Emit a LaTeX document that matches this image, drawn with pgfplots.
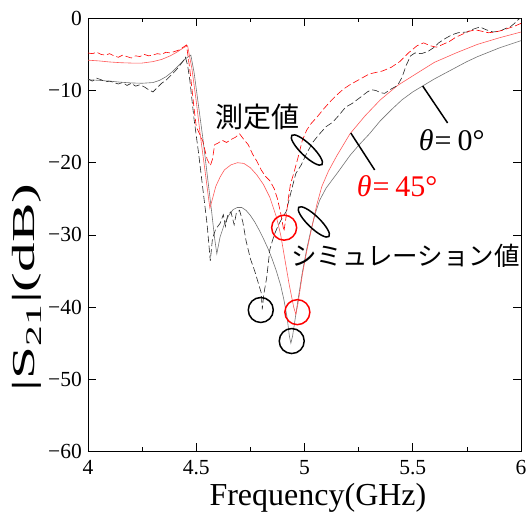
\documentclass[border=0pt]{standalone}
\usepackage{fontspec}
\setmainfont{Liberation Serif}
\newfontfamily\cjk{Noto Sans CJK JP}
\usepackage{pgfplots}
\pgfplotsset{compat=1.18}
\usetikzlibrary{shapes.geometric}
\begin{document}
\begin{tikzpicture}
\useasboundingbox (-88pt,-66.5pt) rectangle (438pt,451.5pt);
\begin{axis}[
  scale only axis, width=433pt, height=433.2pt,
  xmin=4, xmax=6, ymin=-60, ymax=0,
  xtick={4,4.5,5,5.5,6}, xticklabels={4,4.5,5,5.5,6},
  minor xtick={4.25,4.75,5.25,5.75},
  ytick={-60,-50,-40,-30,-20,-10,0},
  yticklabels={−60,−50,−40,−30,−20,−10,0},
  xtick pos=both, ytick pos=both,
  xticklabel pos=lower, yticklabel pos=left,
  tick align=inside,
  major tick length=8pt, minor tick length=4pt,
  every tick/.style={black, line width=0.6pt},
  axis line style={line width=0.7pt},
  tick label style={font=\fontsize{21.5}{24}\selectfont, inner sep=0pt},
  xticklabel style={anchor=north, yshift=-8.5pt},
  yticklabel style={anchor=east, xshift=-6pt},
  xlabel={Frequency(GHz)},
  ylabel={|S\textsubscript{21}|(dB)},
  label style={font=\fontsize{32}{36}\selectfont},
  xlabel style={at={([yshift=-53.5pt]rel axis cs:0.531,0)}, anchor=base},
  ylabel style={at={([xshift=-53pt]rel axis cs:0,0.379)}, anchor=base, xscale=1.85},
]
% simulation theta=0
\addplot[black!55, line width=0.6pt] coordinates {
(4.00,-8.5)(4.05,-8.6)(4.10,-8.7)(4.15,-8.85)(4.20,-8.95)(4.25,-9.0)(4.30,-8.9)(4.33,-8.6)(4.36,-8.1)(4.39,-7.4)(4.42,-6.5)(4.45,-5.6)(4.475,-5.1)(4.49,-7.5)(4.51,-12)(4.53,-16.5)(4.55,-21.5)(4.57,-26.5)(4.585,-30.5)(4.595,-32.6)(4.61,-30.3)(4.63,-28.5)(4.65,-27.3)(4.67,-26.5)(4.69,-26.2)(4.71,-26.2)(4.73,-26.6)(4.75,-27.3)(4.77,-28.2)(4.79,-29.3)(4.81,-30.5)(4.83,-31.8)(4.85,-33.3)(4.87,-35.0)(4.89,-37.0)(4.905,-39.0)(4.92,-41.5)(4.93,-44.0)(4.937,-45.0)(4.945,-44.0)(4.955,-42.0)(4.97,-39.0)(4.99,-35.2)(5.01,-32.0)(5.03,-29.3)(5.05,-27.0)(5.07,-25.2)(5.10,-23.5)(5.15,-21.5)(5.21,-19.0)(5.25,-17.6)(5.30,-16.0)(5.35,-14.2)(5.40,-12.7)(5.45,-11.3)(5.50,-10.2)(5.55,-9.3)(5.60,-8.4)(5.65,-7.6)(5.70,-6.8)(5.75,-6.0)(5.80,-5.3)(5.85,-4.7)(5.90,-4.1)(5.95,-3.6)(6.00,-3.1)
};
% simulation theta=45
\addplot[red!65, line width=0.6pt] coordinates {
(4.00,-5.8)(4.05,-5.9)(4.10,-6.05)(4.15,-6.15)(4.20,-6.2)(4.25,-6.2)(4.30,-6.0)(4.34,-5.7)(4.38,-5.2)(4.41,-4.7)(4.44,-4.1)(4.46,-3.8)(4.48,-7.0)(4.50,-11.5)(4.52,-16.5)(4.54,-21)(4.555,-24.5)(4.563,-26.3)(4.575,-25.0)(4.59,-23.3)(4.61,-22.0)(4.63,-21.0)(4.66,-20.3)(4.69,-20.0)(4.72,-20.1)(4.75,-20.7)(4.78,-21.7)(4.81,-23.0)(4.84,-24.8)(4.87,-27.5)(4.89,-30.0)(4.91,-33.5)(4.93,-37)(4.95,-40.0)(4.96,-41.0)(4.97,-39.5)(4.99,-35.5)(5.01,-32.3)(5.03,-29.5)(5.057,-25.8)(5.08,-23.3)(5.11,-21.2)(5.15,-19.0)(5.21,-16.0)(5.28,-13.5)(5.35,-11.3)(5.43,-9.3)(5.52,-7.6)(5.60,-6.1)(5.70,-4.8)(5.80,-3.6)(5.90,-2.7)(6.00,-1.9)
};
% measured theta=0
\addplot[black!85, line width=0.6pt, dash pattern=on 7pt off 3pt] coordinates {
(4.00,-8.4)(4.02,-8.7)(4.04,-8.3)(4.06,-8.5)(4.08,-8.8)(4.10,-8.7)(4.12,-8.9)(4.14,-9.1)(4.16,-8.9)(4.18,-9.3)(4.20,-9.0)(4.22,-9.4)(4.24,-9.2)(4.26,-9.5)(4.28,-9.9)(4.30,-10.2)(4.32,-9.6)(4.34,-9.0)(4.36,-8.6)(4.38,-8.0)(4.40,-7.4)(4.42,-6.7)(4.44,-5.9)(4.45,-5.4)(4.46,-6.5)(4.47,-8.5)(4.49,-14.0)(4.51,-18.5)(4.53,-23.5)(4.55,-28.5)(4.565,-33.6)(4.57,-32)(4.575,-30.5)(4.59,-29.2)(4.61,-28.4)(4.625,-27.2)(4.635,-28.8)(4.645,-27.3)(4.66,-26.8)(4.675,-28.6)(4.685,-27.0)(4.70,-26.6)(4.715,-28.2)(4.73,-30.8)(4.75,-33.3)(4.77,-35.0)(4.785,-36.5)(4.80,-38.0)(4.805,-40.3)(4.812,-38.2)(4.825,-36.0)(4.84,-32.0)(4.86,-30.0)(4.88,-28.6)(4.90,-27.5)(4.915,-26.8)(4.93,-25.0)(4.945,-23.2)(4.96,-21.5)(4.985,-20.3)(5.01,-18.7)(5.04,-17.1)(5.07,-16.0)(5.10,-15.0)(5.13,-14.4)(5.16,-13.4)(5.19,-12.3)(5.22,-11.8)(5.26,-10.9)(5.29,-10.2)(5.31,-9.9)(5.33,-10.0)(5.35,-10.3)(5.37,-10.4)(5.40,-9.8)(5.43,-9.3)(5.45,-8.2)(5.47,-6.5)(5.49,-5.2)(5.51,-4.8)(5.54,-4.9)(5.57,-4.6)(5.60,-4.0)(5.62,-3.4)(5.65,-2.8)(5.68,-2.3)(5.71,-2.0)(5.75,-1.9)(5.78,-1.5)(5.81,-1.2)(5.84,-1.6)(5.87,-1.9)(5.90,-1.8)(5.93,-1.4)(5.95,-1.2)(5.97,-0.7)(5.99,-0.1)(6.00,0)
};
% measured theta=45
\addplot[red, line width=0.6pt, dash pattern=on 7pt off 3pt] coordinates {
(4.00,-4.8)(4.02,-4.9)(4.04,-4.7)(4.06,-5.0)(4.08,-5.1)(4.10,-4.9)(4.12,-5.2)(4.14,-5.4)(4.16,-5.1)(4.18,-5.3)(4.20,-5.5)(4.22,-5.2)(4.24,-5.3)(4.26,-5.0)(4.28,-5.2)(4.30,-5.1)(4.32,-4.9)(4.34,-5.0)(4.36,-4.7)(4.38,-4.8)(4.40,-4.6)(4.42,-4.4)(4.44,-4.0)(4.455,-3.7)(4.47,-7.0)(4.49,-12.5)(4.50,-15.0)(4.53,-17.0)(4.55,-19.5)(4.565,-20.4)(4.575,-19.5)(4.585,-17.5)(4.60,-17.3)(4.62,-16.9)(4.64,-17.2)(4.66,-16.8)(4.68,-16.5)(4.70,-16.0)(4.72,-16.8)(4.74,-17.5)(4.76,-18.8)(4.78,-19.8)(4.80,-21.0)(4.82,-21.9)(4.84,-22.5)(4.86,-23.6)(4.875,-25.0)(4.89,-27.0)(4.905,-29.5)(4.915,-27.5)(4.925,-25.0)(4.935,-23.0)(4.95,-21.5)(4.97,-19.3)(4.99,-16.9)(5.01,-15.5)(5.03,-14.6)(5.06,-13.6)(5.09,-12.5)(5.12,-11.5)(5.15,-10.6)(5.18,-9.8)(5.21,-9.2)(5.24,-8.7)(5.27,-8.2)(5.30,-7.7)(5.33,-7.5)(5.36,-7.3)(5.40,-6.8)(5.44,-6.0)(5.48,-4.8)(5.52,-3.8)(5.55,-3.4)(5.58,-3.8)(5.61,-4.0)(5.64,-3.6)(5.67,-3.2)(5.70,-2.6)(5.73,-2.2)(5.76,-1.8)(5.79,-1.6)(5.82,-1.8)(5.85,-2.0)(5.88,-1.9)(5.91,-1.7)(5.94,-1.4)(5.97,-1.1)(6.00,-0.7)
};
% circled dips
\addplot[only marks, black, mark=o, mark size=12.5pt, mark options={line width=1.5pt}] coordinates {(4.798,-40.4)(4.941,-44.7)};
\addplot[only marks, red, mark=o, mark size=12.5pt, mark options={line width=1.5pt}] coordinates {(4.906,-29.0)(4.967,-40.7)};
% annotations
\node[font=\cjk\fontsize{28}{30}\selectfont] at (axis cs:4.782,-13.67) {測定値};
\node[font=\cjk\fontsize{25.5}{28}\selectfont] at (axis cs:5.467,-32.9) {シミュレーション値};
\node[draw, ellipse, line width=1.5pt, minimum width=42pt, minimum height=12pt, inner sep=0pt, rotate=-44] at (axis cs:5.011,-18.24) {};
\node[draw, ellipse, line width=1.5pt, minimum width=42pt, minimum height=12pt, inner sep=0pt, rotate=-44] at (axis cs:5.043,-28.2) {};
\draw[line width=1.5pt] (axis cs:5.546,-9.38) -- (axis cs:5.661,-14.5);
\draw[line width=1.5pt] (axis cs:5.214,-15.9) -- (axis cs:5.324,-21.0);
\node[font=\fontsize{30}{32}\selectfont] at (axis cs:5.68,-16.85) {{\itshape θ}\kern1pt=\kern6pt0°};
\node[font=\fontsize{30}{32}\selectfont, red] at (axis cs:5.428,-23.2) {{\itshape θ}\kern1pt=\kern6pt45°};
\end{axis}
\end{tikzpicture}
\end{document}
